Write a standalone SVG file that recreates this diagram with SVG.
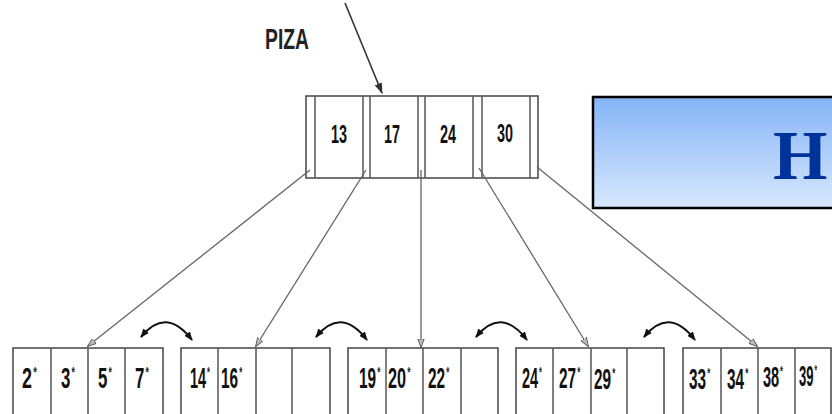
<svg xmlns="http://www.w3.org/2000/svg" width="832" height="414" viewBox="0 0 832 414">
  <style>
    .box { fill: #fff; stroke: #444; stroke-width: 1.5; }
    .div { stroke: #555; stroke-width: 1.5; }
    .key { font-family: "Liberation Sans", Arial, sans-serif; font-weight: bold; font-size: 25px; fill: #111; }
    .num { font-family: "Liberation Sans", Arial, sans-serif; font-weight: bold; font-size: 29px; fill: #111; }
    .ast { font-size: 15px; fill: #222; }
    .ptr { stroke: #666; stroke-width: 1.3; fill: none; marker-end: url(#open); }
    .sib { stroke: #111; stroke-width: 2; fill: none; marker-start: url(#solid); marker-end: url(#solid); }
  </style>
  <defs>
    <marker id="open" viewBox="0 0 10 10" refX="9" refY="5" markerWidth="9" markerHeight="9" orient="auto" markerUnits="userSpaceOnUse">
      <path d="M0,1.5 L10,5 L0,8.5 Z" fill="#bbb" stroke="#555" stroke-width="1"/>
    </marker>
    <marker id="solid" viewBox="0 0 10 10" refX="9" refY="5" markerWidth="9" markerHeight="9" orient="auto-start-reverse" markerUnits="userSpaceOnUse">
      <path d="M0,1 L10,5 L0,9 Z" fill="#111"/>
    </marker>
    <marker id="dark" viewBox="0 0 10 10" refX="9" refY="5" markerWidth="11" markerHeight="11" orient="auto" markerUnits="userSpaceOnUse">
      <path d="M0,1.5 L10,5 L0,8.5 Z" fill="#333"/>
    </marker>
    <linearGradient id="blue" x1="0" y1="0" x2="0" y2="1">
      <stop offset="0" stop-color="#84b4f7"/>
      <stop offset="1" stop-color="#d8e8fd"/>
    </linearGradient>
  </defs>

  <!-- title banner -->
  <g id="banner">
    <rect x="593" y="97" width="260" height="111" fill="url(#blue)" stroke="#000" stroke-width="2.5"/>
    <text x="773" y="179" font-family="'Liberation Serif', 'Times New Roman', serif" font-weight="bold" font-size="70" fill="#003399">H</text>
  </g>

  <!-- root index node -->
  <g id="root">
    <text x="265" y="49" font-family="'Liberation Sans', Arial, sans-serif" font-weight="bold" font-size="30" fill="#222" textLength="44" lengthAdjust="spacingAndGlyphs">PIZA</text>
    <rect class="box" x="306" y="96" width="232" height="82"/>
    <line class="div" x1="315" y1="96" x2="315" y2="178"/>
    <line class="div" x1="363" y1="96" x2="363" y2="178"/>
    <line class="div" x1="370" y1="96" x2="370" y2="178"/>
    <line class="div" x1="418" y1="96" x2="418" y2="178"/>
    <line class="div" x1="425" y1="96" x2="425" y2="178"/>
    <line class="div" x1="473" y1="96" x2="473" y2="178"/>
    <line class="div" x1="482" y1="96" x2="482" y2="178"/>
    <line class="div" x1="530" y1="96" x2="530" y2="178"/>
    <text class="key" x="331" y="143" textLength="16" lengthAdjust="spacingAndGlyphs">13</text>
    <text class="key" x="384" y="143" textLength="16" lengthAdjust="spacingAndGlyphs">17</text>
    <text class="key" x="440" y="143" textLength="16" lengthAdjust="spacingAndGlyphs">24</text>
    <text class="key" x="497" y="142" textLength="16" lengthAdjust="spacingAndGlyphs">30</text>
  </g>

  <!-- leaf pages: narrow key text with a raised asterisk -->
  <g id="leaf1">
    <rect class="box" x="13" y="348" width="150" height="80"/>
    <line class="div" x1="51" y1="348" x2="51" y2="414"/>
    <line class="div" x1="88" y1="348" x2="88" y2="414"/>
    <line class="div" x1="125" y1="348" x2="125" y2="414"/>
    <text class="num" transform="translate(22,388) scale(0.62,1)">2<tspan class="ast" dx="2" dy="-11">*</tspan></text>
    <text class="num" transform="translate(61,388) scale(0.58,1)">3<tspan class="ast" dx="2" dy="-11">*</tspan></text>
    <text class="num" transform="translate(98,388) scale(0.58,1)">5<tspan class="ast" dx="2" dy="-11">*</tspan></text>
    <text class="num" transform="translate(135,388) scale(0.58,1)">7<tspan class="ast" dx="2" dy="-11">*</tspan></text>
  </g>
  <g id="leaf2">
    <rect class="box" x="181" y="348" width="149" height="80"/>
    <line class="div" x1="218" y1="348" x2="218" y2="414"/>
    <line class="div" x1="256" y1="348" x2="256" y2="414"/>
    <line class="div" x1="292" y1="348" x2="292" y2="414"/>
    <text class="num" transform="translate(190,388) scale(0.5,1)">14<tspan class="ast" dx="2" dy="-11">*</tspan></text>
    <text class="num" transform="translate(221,388) scale(0.53,1)">16<tspan class="ast" dx="2" dy="-11">*</tspan></text>
  </g>
  <g id="leaf3">
    <rect class="box" x="348" y="348" width="150" height="80"/>
    <line class="div" x1="386" y1="348" x2="386" y2="414"/>
    <line class="div" x1="423" y1="348" x2="423" y2="414"/>
    <line class="div" x1="461" y1="348" x2="461" y2="414"/>
    <text class="num" transform="translate(359,388) scale(0.53,1)">19<tspan class="ast" dx="2" dy="-11">*</tspan></text>
    <text class="num" transform="translate(388,388) scale(0.56,1)">20<tspan class="ast" dx="2" dy="-11">*</tspan></text>
    <text class="num" transform="translate(428,388) scale(0.53,1)">22<tspan class="ast" dx="2" dy="-11">*</tspan></text>
  </g>
  <g id="leaf4">
    <rect class="box" x="516" y="348" width="148" height="80"/>
    <line class="div" x1="553" y1="348" x2="553" y2="414"/>
    <line class="div" x1="591" y1="348" x2="591" y2="414"/>
    <line class="div" x1="627" y1="348" x2="627" y2="414"/>
    <text class="num" transform="translate(522,388) scale(0.5,1)">24<tspan class="ast" dx="2" dy="-11">*</tspan></text>
    <text class="num" transform="translate(559,388) scale(0.53,1)">27<tspan class="ast" dx="2" dy="-11">*</tspan></text>
    <text class="num" transform="translate(594,389) scale(0.53,1)">29<tspan class="ast" dx="2" dy="-11">*</tspan></text>
  </g>
  <g id="leaf5">
    <rect class="box" x="683" y="348" width="148" height="80"/>
    <line class="div" x1="721" y1="348" x2="721" y2="414"/>
    <line class="div" x1="758" y1="348" x2="758" y2="414"/>
    <line class="div" x1="795" y1="348" x2="795" y2="414"/>
    <text class="num" transform="translate(689,389) scale(0.53,1)">33<tspan class="ast" dx="2" dy="-11">*</tspan></text>
    <text class="num" transform="translate(727,389) scale(0.53,1)">34<tspan class="ast" dx="2" dy="-11">*</tspan></text>
    <text class="num" transform="translate(763,387) scale(0.5,1)">38<tspan class="ast" dx="2" dy="-11">*</tspan></text>
    <text class="num" transform="translate(799,386) scale(0.45,1)">39<tspan class="ast" dx="2" dy="-11">*</tspan></text>
  </g>

  <!-- pointers and sibling links -->
  <g id="connectors">
    <line x1="345" y1="3" x2="382" y2="93" stroke="#333" stroke-width="1.6" marker-end="url(#dark)"/>
    <line class="ptr" x1="310" y1="170" x2="88" y2="346"/>
    <line class="ptr" x1="366" y1="170" x2="256" y2="346"/>
    <line class="ptr" x1="421" y1="170" x2="421" y2="347"/>
    <line class="ptr" x1="479" y1="168" x2="588" y2="346"/>
    <line class="ptr" x1="537" y1="167" x2="757" y2="346"/>
    <path class="sib" d="M141,337 Q166,306 192,340"/>
    <path class="sib" d="M316,337 Q341,306 367,340"/>
    <path class="sib" d="M476,337 Q501,306 527,340"/>
    <path class="sib" d="M644,337 Q669,306 695,340"/>
  </g>
</svg>
